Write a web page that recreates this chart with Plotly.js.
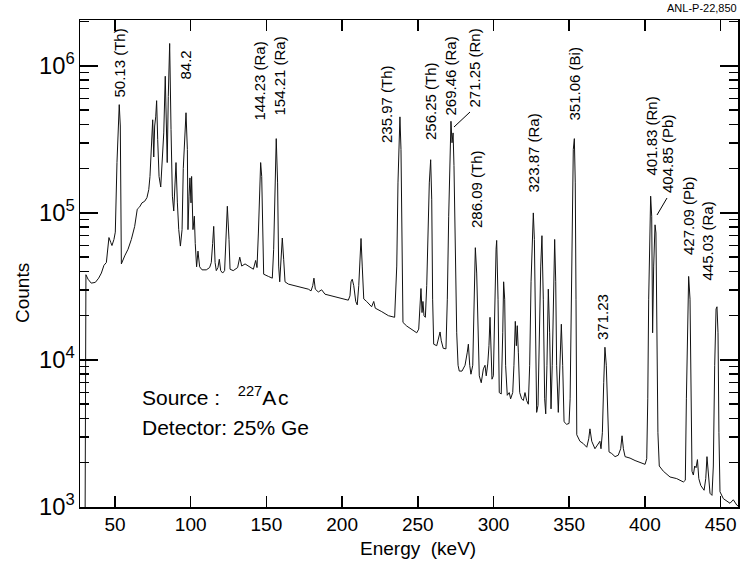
<!DOCTYPE html>
<html>
<head>
<meta charset="utf-8">
<script src="https://cdn.plot.ly/plotly-3.0.1.min.js"></script>
<style>html,body{margin:0;padding:0;background:#fff;}#chart{width:741px;height:564px;}</style>
</head>
<body>
<div id="chart"></div>
<script>
// Gamma-ray spectrum of 227Ac
const energyKeV = [30.2,30.8,32.2,34.3,37.0,39.2,41.0,42.7,44.3,45.4,46.0,47.2,48.0,49.3,50.2,51.3,52.2,52.8,53.5,54.0,54.2,56.4,58.6,60.8,63.0,64.7,66.3,67.8,69.6,71.1,72.3,73.1,74.0,74.9,75.6,76.2,76.9,77.5,78.2,79.1,80.2,81.0,82.2,83.2,83.9,84.5,85.2,86.1,87.0,87.9,88.8,89.4,90.3,91.2,92.1,93.2,94.3,95.1,96.0,96.9,97.8,98.2,98.9,99.5,100.2,100.6,101.5,102.4,103.0,103.9,104.8,105.9,107.5,110.3,112.5,113.6,114.5,115.2,116.1,116.9,118.0,118.9,119.8,121.1,122.4,123.3,124.2,125.3,126.0,128.1,131.0,132.4,133.7,135.9,138.0,141.4,142.9,143.8,144.7,145.6,146.2,146.9,147.6,148.2,151.3,153.9,154.8,155.7,156.5,157.4,158.1,158.8,159.6,160.5,161.4,162.3,164.5,168.9,173.3,177.7,179.5,180.6,181.4,182.3,184.3,186.5,188.7,193.1,197.5,201.9,204.1,205.2,205.9,206.7,207.7,209.0,210.0,211.0,211.8,212.5,213.3,214.3,216.2,219.5,220.9,221.9,226.2,230.6,234.7,236.1,236.9,237.8,238.2,238.9,239.6,240.2,242.7,246.0,249.3,250.6,251.5,252.1,252.8,253.4,254.1,255.0,255.9,256.7,257.6,258.5,259.2,259.8,260.5,262.5,263.8,264.7,265.5,266.8,268.6,269.5,270.4,271.3,271.9,272.6,273.3,273.9,274.8,275.7,276.6,277.4,279.2,281.2,282.7,283.4,284.3,285.1,286.3,287.1,288.0,288.9,289.8,290.6,291.9,293.3,294.4,295.2,296.2,297.0,297.7,298.3,299.0,299.9,300.8,301.7,302.1,303.0,303.8,305.1,306.1,306.7,307.4,308.0,309.1,310.4,311.3,312.7,313.5,314.4,315.1,315.7,316.4,317.3,318.6,319.7,320.8,321.9,323.0,323.9,324.8,325.6,326.3,327.0,327.6,328.5,329.4,330.3,331.2,332.0,332.9,333.8,334.5,335.3,336.2,337.1,338.0,338.8,339.8,340.4,341.1,341.7,342.8,343.9,344.8,345.7,346.6,348.3,349.9,350.6,351.7,352.7,353.4,354.0,354.5,355.0,357.1,359.3,361.6,362.9,363.7,364.9,367.0,369.2,370.3,371.0,371.9,372.8,373.6,374.5,375.4,376.3,378.1,380.3,382.4,384.0,384.9,385.8,386.9,390.2,393.5,396.8,400.1,401.2,401.9,402.5,403.2,403.8,404.5,405.1,405.8,406.7,407.3,408.0,408.6,409.5,412.2,416.6,421.0,425.4,426.7,427.4,428.0,428.9,429.8,430.5,431.1,432.0,432.9,433.8,434.7,435.6,436.9,439.1,440.2,441.0,441.9,443.0,444.3,445.2,446.1,447.0,447.6,448.3,448.9,449.6,451.8,454.0,456.2,458.4,460.7,462.5];
const counts = [600,38000,35400,33300,33700,36000,39000,44000,46000,56600,68000,63000,60000,66000,74000,220000,480000,545000,390000,46000,45000,51000,56600,66000,81000,106000,110000,117000,120000,127000,144000,177000,284000,430000,240000,390000,450000,580000,315000,177000,150000,200000,350000,850000,450000,220000,620000,1420000,370000,130000,103000,160000,220000,117000,77000,59500,77000,200000,350000,480000,270000,77000,130000,173000,117000,177000,77000,95000,62000,43000,55000,43000,41000,41000,42500,46000,62000,81000,46000,40500,42500,48400,40500,39000,40500,62000,111000,66000,41400,40500,42500,50000,43500,45000,43500,41400,47500,42500,73000,160000,220000,177000,66000,38300,37000,36000,56600,160000,320000,160000,43500,34000,48400,67500,48400,34000,32800,32000,31000,30300,29500,32000,36000,30300,29000,30000,28000,27300,26500,25900,25500,27300,34000,35400,32000,25000,23700,32000,56600,67000,43500,26000,25000,23000,25000,22500,21300,20000,19500,43500,160000,350000,450000,270000,56600,18000,17000,16200,15300,16200,25000,30600,21000,25000,20000,19500,32000,73000,160000,230000,124000,25900,12800,12500,13900,15500,13500,12000,11900,25900,95000,270000,420000,300000,350000,210000,56600,15300,9200,8400,8400,9200,11300,12800,9200,8000,9200,25900,58000,39000,13900,7800,7000,8700,9200,7800,9400,12500,19500,13900,7400,7800,25900,56600,65000,25900,6000,5870,15300,34000,25900,9200,5750,6000,5440,6000,9200,18300,12500,17100,11300,6000,5440,5300,6000,5300,5000,9200,34000,73000,100000,66000,15300,4400,4900,15300,43500,70000,25900,5440,4300,9200,30300,15300,4650,9200,48400,66000,34000,9200,4400,11300,17500,9200,3800,3650,3700,5440,73000,270000,320000,160000,25900,3100,2800,2700,2550,2910,3400,2800,2490,2700,2800,2490,3200,7000,12200,9200,4200,2370,2310,2200,2250,2490,3050,2490,2200,2150,2070,2000,1950,2130,5440,25900,81000,130000,95000,15300,43500,83000,73000,15300,3200,1900,1750,1600,1560,1480,1520,5440,17000,37000,25900,5440,1750,1650,1900,1850,2100,1560,1400,1300,1560,2200,1560,1240,1200,1900,9200,22200,23000,15300,3200,1270,1140,1100,1060,1120,1030,1000];

// Peak labels
const peakLabels = ["50.13 (Th)","84.2","144.23 (Ra)","154.21 (Ra)","235.97 (Th)","256.25 (Th)","269.46 (Ra)","271.25 (Rn)","286.09 (Th)","323.87 (Ra)","351.06 (Bi)","371.23","401.83 (Rn)","404.85 (Pb)","427.09 (Pb)","445.03 (Ra)"];
// label placement in pixels (center x, bottom y)
const labelPx = [[119,100],[185,82],[259,123],[279,118],[386,145],[430,142],[450,118],[474,110],[477,230],[533,195],[574,123],[603,342],[651,178],[667,195],[688,257],[707,283]];

const FONT = "'Liberation Sans', Arial, Helvetica, sans-serif";
const L = 80, R = 738, T = 20, B = 507;
const px = x => (x - L) / (R - L);
const py = y => (B - y) / (B - T);

const annotations = peakLabels.map((t, i) => ({
  text: t, xref: 'paper', yref: 'paper',
  x: px(labelPx[i][0]), y: py(labelPx[i][1]),
  xanchor: 'center', yanchor: 'bottom', textangle: -90,
  showarrow: false, font: {family: FONT, size: 15, color: '#000'}
}));
annotations.push(
  {text: 'Source :\u00a0\u00a0\u00a0<sup>227</sup>A\u200ac', xref:'paper', yref:'paper', x: px(140), y: py(396), xanchor:'left', yanchor:'middle', showarrow:false, font:{family:FONT, size:21, color:'#000'}},
  {text: 'Detector: 25% Ge', xref:'paper', yref:'paper', x: px(140), y: py(427), xanchor:'left', yanchor:'middle', showarrow:false, font:{family:FONT, size:21, color:'#000'}},
  {text: 'ANL-P-22,850', xref:'paper', yref:'paper', x: px(739), y: py(8), xanchor:'right', yanchor:'middle', showarrow:false, font:{family:FONT, size:11, color:'#000'}},
  {text: 'Energy\u00a0\u00a0(keV)', xref:'paper', yref:'paper', x: px(418), y: py(548), xanchor:'center', yanchor:'middle', showarrow:false, font:{family:FONT, size:19, color:'#000'}},
  {text: 'Counts', xref:'paper', yref:'paper', x: px(22), y: py(293), xanchor:'center', yanchor:'middle', textangle:-90, showarrow:false, font:{family:FONT, size:19, color:'#000'}}
);

const shapes = [
  {type:'line', xref:'paper', yref:'paper', x0:px(454), y0:py(127), x1:px(470), y1:py(112), line:{color:'#000', width:1}},
  {type:'line', xref:'paper', yref:'paper', x0:px(657), y0:py(215), x1:px(667), y1:py(198), line:{color:'#000', width:1}}
];

const trace = {
  x: energyKeV, y: counts, type: 'scatter', mode: 'lines',
  line: {color: '#111', width: 1}, hoverinfo: 'skip'
};

const layout = {
  width: 741, height: 564,
  margin: {l: L, r: 741 - R, t: T, b: 564 - B},
  paper_bgcolor: '#fff', plot_bgcolor: '#fff',
  showlegend: false,
  font: {family: FONT, color: '#000'},
  xaxis: {
    range: [(L - 39.3) / 1.514, (R - 39.3) / 1.514],
    dtick: 50,
    ticks: 'inside', ticklen: 11, tickwidth: 1.5, tickcolor: '#000',
    showline: true, linewidth: 1.5, linecolor: '#000', mirror: 'allticks',
    showgrid: false, zeroline: false,
    tickfont: {family: FONT, size: 19, color: '#000'}
  },
  yaxis: {
    type: 'log', range: [3, 6.312], dtick: 1,
    exponentformat: 'power',
    ticks: 'inside', ticklen: 18, tickwidth: 1.5, tickcolor: '#000',
    minor: {ticks: 'inside', ticklen: 9, tickcolor: '#000', dtick: 'D1'},
    showline: true, linewidth: 1.5, linecolor: '#000', mirror: 'allticks',
    showgrid: false, zeroline: false,
    tickfont: {family: FONT, size: 19, color: '#000'}
  },
  annotations: annotations,
  shapes: shapes
};

Plotly.newPlot('chart', [trace], layout, {displayModeBar: false, staticPlot: true});
</script>
</body>
</html>
